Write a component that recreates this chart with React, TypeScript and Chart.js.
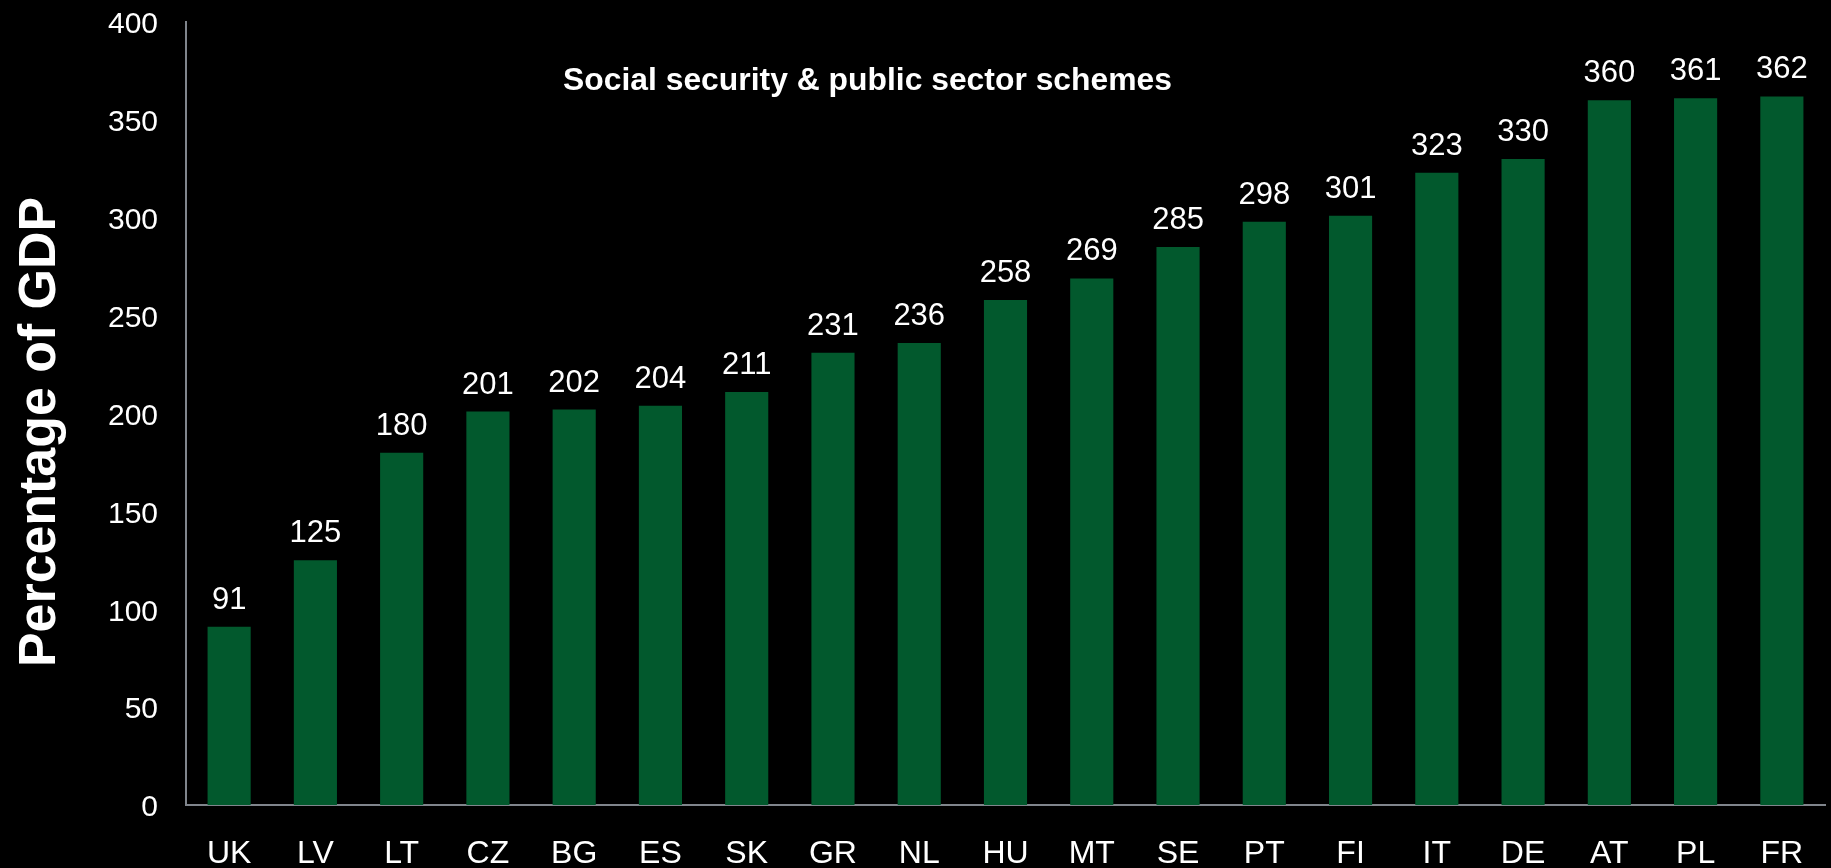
import React, { useEffect, useRef } from "react";
import { Chart, registerables } from "chart.js";

Chart.register(...registerables);

const categories = ["UK", "LV", "LT", "CZ", "BG", "ES", "SK", "GR", "NL", "HU", "MT", "SE", "PT", "FI", "IT", "DE", "AT", "PL", "FR"];
const values = [91, 125, 180, 201, 202, 204, 211, 231, 236, 258, 269, 285, 298, 301, 323, 330, 360, 361, 362];
const chartTitle = "Social security & public sector schemes";
const yAxisTitle = "Percentage of GDP";

const FONT = '"Liberation Sans", Arial, sans-serif';
const BAR_COLOR = "#02592D";
const AXIS_COLOR = "#80858C";

export default function App() {
  const ref = useRef<HTMLCanvasElement | null>(null);

  useEffect(() => {
    document.body.style.margin = "0";
    document.body.style.background = "#000";
    const canvas = ref.current;
    if (!canvas) return;

    const bgPlugin = {
      id: "bg",
      beforeDraw(chart: any) {
        const ctx = chart.ctx;
        ctx.save();
        ctx.fillStyle = "#000";
        ctx.fillRect(0, 0, chart.width, chart.height);
        ctx.restore();
      },
    };

    const labelsPlugin = {
      id: "extras",
      afterDatasetsDraw(chart: any) {
        const ctx = chart.ctx;
        const meta = chart.getDatasetMeta(0);
        ctx.save();
        ctx.fillStyle = "#fff";
        ctx.font = `31px ${FONT}`;
        ctx.textAlign = "center";
        ctx.textBaseline = "alphabetic";
        meta.data.forEach((bar: any, i: number) => {
          ctx.fillText(String(values[i]), bar.x, bar.y - 18);
        });
        // chart title
        ctx.font = `bold 31.5px ${FONT}`;
        ctx.textAlign = "left";
        const tw = ctx.measureText(chartTitle).width;
        ctx.translate(563, 89.5);
        ctx.scale(609 / tw, 1);
        ctx.fillText(chartTitle, 0, 0);
        ctx.restore();

        // y axis title (rotated)
        ctx.save();
        ctx.fillStyle = "#fff";
        ctx.font = `bold 51px ${FONT}`;
        ctx.textAlign = "center";
        ctx.textBaseline = "alphabetic";
        const yw = ctx.measureText(yAxisTitle).width;
        ctx.translate(55, 432);
        ctx.rotate(-Math.PI / 2);
        ctx.scale(470 / yw, 1);
        ctx.fillText(yAxisTitle, 0, 0);
        ctx.restore();
      },
    };

    const chart = new Chart(canvas, {
      type: "bar",
      data: {
        labels: categories,
        datasets: [
          {
            data: values,
            backgroundColor: BAR_COLOR,
            barPercentage: 0.5,
            categoryPercentage: 1,
          },
        ],
      },
      options: {
        animation: false,
        responsive: false,
        devicePixelRatio: 1,
        layout: { padding: { left: 0, right: 6, top: 22, bottom: 0 } },
        plugins: {
          legend: { display: false },
          title: { display: false },
          tooltip: { enabled: false },
        },
        scales: {
          x: {
            grid: { display: false, drawTicks: false },
            border: { display: true, color: AXIS_COLOR, width: 2 },
            ticks: {
              color: "#fff",
              font: { family: FONT, size: 32 },
              padding: 30,
              maxRotation: 0,
              autoSkip: false,
            },
            afterFit(scale: any) {
              scale.height = 63;
              scale.paddingLeft = 0;
              scale.paddingRight = 0;
            },
          },
          y: {
            min: 0,
            max: 400,
            grid: { display: false, drawTicks: false },
            border: { display: true, color: AXIS_COLOR, width: 2 },
            ticks: {
              stepSize: 50,
              color: "#fff",
              font: { family: FONT, size: 30 },
              padding: 28,
              labelOffset: 3,
            },
            afterFit(scale: any) {
              scale.width = 186;
              scale.paddingTop = 0;
              scale.paddingBottom = 0;
            },
          },
        },
      },
      plugins: [bgPlugin, labelsPlugin],
    });

    return () => chart.destroy();
  }, []);

  return (
    <div style={{ width: 1831, height: 868, background: "#000" }}>
      <canvas ref={ref} width={1831} height={868} style={{ display: "block" }} />
    </div>
  );
}
